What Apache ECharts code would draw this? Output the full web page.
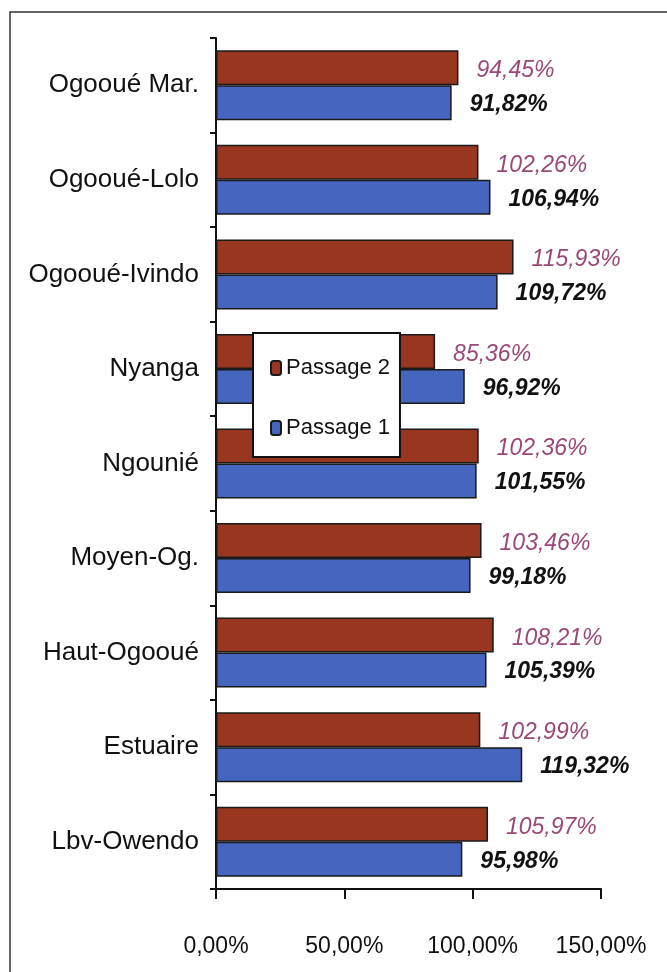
<!DOCTYPE html>
<html>
<head>
<meta charset="utf-8">
<script src="https://cdn.jsdelivr.net/npm/echarts@6/dist/echarts.min.js"></script>
<style>
html, body { margin: 0; padding: 0; background: #fff; }
#chart { width: 667px; height: 972px; }
</style>
</head>
<body>
<div id="chart"></div>
<script>
var provinces = ['Ogooué Mar.', 'Ogooué-Lolo', 'Ogooué-Ivindo', 'Nyanga', 'Ngounié',
    'Moyen-Og.', 'Haut-Ogooué', 'Estuaire', 'Lbv-Owendo'];
var passage2 = [94.45, 102.26, 115.93, 85.36, 102.36, 103.46, 108.21, 102.99, 105.97];
var passage1 = [91.82, 106.94, 109.72, 96.92, 101.55, 99.18, 105.39, 119.32, 95.98];
var xTicks = [0, 50, 100, 150];

var font = 'Liberation Sans, Arial, sans-serif';

function pct(v) {
    return v.toFixed(2).replace('.', ',') + '%';
}

var chart = echarts.init(document.getElementById('chart'));
chart.setOption({
    backgroundColor: '#fff',
    animation: false,
    textStyle: { fontFamily: font },
    graphic: [{
        type: 'rect',
        shape: { x: 10, y: 12, width: 700, height: 1000 },
        style: { fill: 'none', stroke: '#333', lineWidth: 1.5 },
        z: -10
    }],
    grid: { left: 216, right: 66, top: 38, bottom: 83 },
    legend: {
        data: ['Passage 2', 'Passage 1'],
        orient: 'vertical',
        left: 253,
        top: 333,
        padding: [24, 10, 18, 17],
        itemGap: 38,
        itemWidth: 10,
        itemHeight: 14,
        backgroundColor: '#fff',
        borderColor: '#111',
        borderWidth: 2,
        borderRadius: 0,
        textStyle: { fontSize: 22, color: '#111', fontFamily: font }
    },
    xAxis: {
        type: 'value',
        min: xTicks[0],
        max: xTicks[xTicks.length - 1],
        interval: 50,
        splitLine: { show: false },
        axisLine: { show: true, lineStyle: { color: '#111', width: 2 } },
        axisTick: { show: true, length: 10, lineStyle: { color: '#111', width: 2 } },
        axisLabel: {
            margin: 46,
            fontSize: 23,
            color: '#111',
            formatter: function (v) { return pct(v); }
        }
    },
    yAxis: {
        type: 'category',
        inverse: true,
        data: provinces,
        axisLine: { lineStyle: { color: '#111', width: 2 } },
        axisTick: { show: true, length: 6, lineStyle: { color: '#111', width: 2 } },
        axisLabel: { margin: 17, fontSize: 26, color: '#111' }
    },
    series: [{
        name: 'Passage 2',
        type: 'bar',
        data: passage2,
        barWidth: 35,
        barGap: '0%',
        barCategoryGap: '25%',
        itemStyle: { color: '#98361f', borderColor: '#1a1a1a', borderWidth: 1.5 },
        label: {
            show: true,
            position: 'right',
            distance: 18,
            offset: [0, 3],
            fontSize: 23,
            fontStyle: 'italic',
            color: '#9a4877',
            formatter: function (p) { return pct(p.value); }
        }
    }, {
        name: 'Passage 1',
        type: 'bar',
        data: passage1,
        barWidth: 35,
        barGap: '0%',
        barCategoryGap: '25%',
        itemStyle: { color: '#4565bf', borderColor: '#1a1a1a', borderWidth: 1.5 },
        label: {
            show: true,
            position: 'right',
            distance: 18,
            offset: [0, 2],
            fontSize: 23,
            fontStyle: 'italic',
            fontWeight: 'bold',
            color: '#111',
            formatter: function (p) { return pct(p.value); }
        }
    }]
});
</script>
</body>
</html>
